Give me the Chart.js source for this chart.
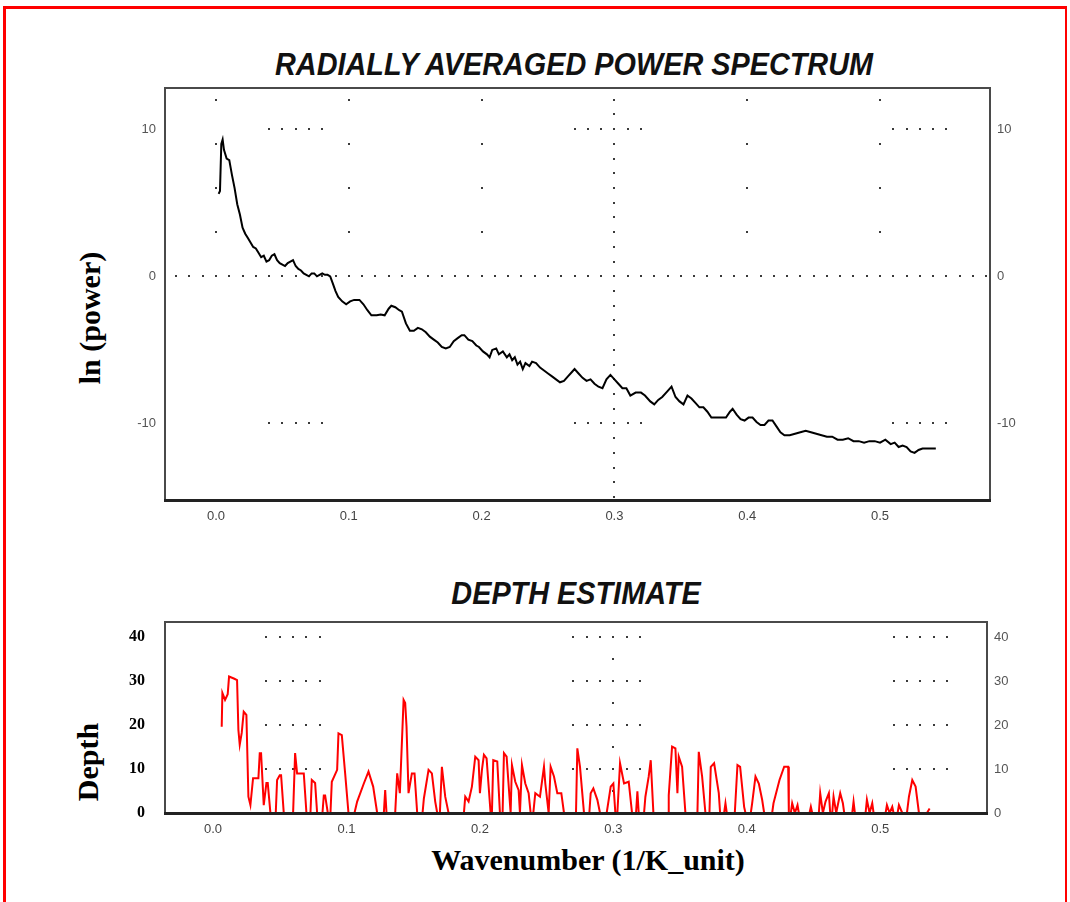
<!DOCTYPE html>
<html>
<head>
<meta charset="utf-8">
<script src="https://cdn.jsdelivr.net/npm/chart.js@4.4.0/dist/chart.umd.min.js"></script>
<style>
  html, body { margin: 0; padding: 0; background: #fff; overflow: hidden; }
  body { width: 1070px; height: 902px; position: relative; }
  .frame { position: absolute; left: 3px; top: 6px; right: 3px; bottom: -20px;
           border: 3px solid #ff0000; border-right-width: 2px; }
  .box { position: absolute; left: 0; width: 1070px; }
  .title { position: absolute; font-family: "Liberation Sans", Arial, sans-serif;
           font-weight: bold; font-style: italic; color: #111; white-space: nowrap;
           transform: translate(-50%, -50%) scaleX(0.93); }
  .ytitle { position: absolute; font-family: "Liberation Serif", "Times New Roman", serif;
            font-weight: bold; color: #000; white-space: nowrap;
            transform: translate(-50%, -50%) rotate(-90deg); }
  .xtitle { position: absolute; font-family: "Liberation Serif", "Times New Roman", serif;
            font-weight: bold; color: #000; white-space: nowrap; transform: translate(-50%, -50%); }
</style>
</head>
<body>
<div class="frame"></div>
<div class="title" style="left:574px; top:65px; font-size:31px;">RADIALLY AVERAGED POWER SPECTRUM</div>
<div class="title" style="left:576px; top:594px; font-size:31px;">DEPTH ESTIMATE</div>
<div class="ytitle" style="left:90px; top:318px; font-size:30px;">ln (power)</div>
<div class="ytitle" style="left:88px; top:762px; font-size:30px;">Depth</div>
<div class="xtitle" style="left:588px; top:860px; font-size:30px;">Wavenumber (1/K_unit)</div>

<div class="box" style="top:0; height:535px;"><canvas id="spectrum"></canvas></div>
<div class="box" style="top:560px; height:300px;"><canvas id="depth"></canvas></div>

<script>
// valores
const wavenumber = [0.002, 0.003, 0.004, 0.005, 0.006, 0.008, 0.010, 0.012, 0.014, 0.016, 0.018, 0.020,
  0.022, 0.024, 0.026, 0.028, 0.030, 0.032, 0.034, 0.036, 0.038, 0.040, 0.042, 0.044, 0.046, 0.048,
  0.050, 0.052, 0.054, 0.056, 0.058, 0.060, 0.062, 0.064, 0.066, 0.068, 0.070, 0.072, 0.074, 0.076,
  0.078, 0.080, 0.082, 0.084, 0.086, 0.088, 0.090, 0.092, 0.095, 0.098, 0.101, 0.104, 0.108, 0.111,
  0.114, 0.117, 0.121, 0.124, 0.127, 0.130, 0.132, 0.135, 0.138, 0.140, 0.143, 0.146, 0.149, 0.152,
  0.155, 0.158, 0.161, 0.164, 0.167, 0.170, 0.173, 0.176, 0.179, 0.182, 0.185, 0.187, 0.190, 0.193,
  0.196, 0.198, 0.201, 0.204, 0.206, 0.208, 0.211, 0.213, 0.216, 0.219, 0.221, 0.223, 0.225, 0.227,
  0.229, 0.231, 0.233, 0.236, 0.238, 0.241, 0.244, 0.247, 0.250, 0.253, 0.256, 0.259, 0.262, 0.265,
  0.268, 0.270, 0.273, 0.276, 0.279, 0.282, 0.285, 0.288, 0.291, 0.294, 0.297, 0.300, 0.303, 0.306,
  0.309, 0.312, 0.316, 0.320, 0.323, 0.327, 0.330, 0.333, 0.336, 0.340, 0.343, 0.346, 0.349, 0.352,
  0.355, 0.358, 0.361, 0.364, 0.367, 0.370, 0.373, 0.376, 0.380, 0.384, 0.387, 0.389, 0.392, 0.395,
  0.398, 0.401, 0.404, 0.407, 0.410, 0.413, 0.416, 0.419, 0.422, 0.425, 0.428, 0.432, 0.436, 0.440,
  0.444, 0.448, 0.452, 0.456, 0.460, 0.464, 0.468, 0.472, 0.476, 0.480, 0.484, 0.488, 0.492, 0.496,
  0.500, 0.504, 0.508, 0.511, 0.514, 0.517, 0.520, 0.523, 0.526, 0.529, 0.532, 0.536, 0.540, 0.542];

const lnPower = [5.6, 5.8, 9.0, 9.3, 8.6, 8.0, 7.9, 6.9, 6.0, 4.9, 4.2, 3.3,
  2.9, 2.6, 2.3, 2.0, 1.9, 1.6, 1.3, 1.4, 1.0, 1.1, 1.4, 1.5, 1.1, 0.9,
  0.8, 0.7, 0.9, 1.0, 1.1, 0.7, 0.5, 0.4, 0.2, 0.1, 0.0, 0.2, 0.2, 0.0,
  0.1, 0.2, 0.1, 0.1, 0.0, -0.5, -1.0, -1.4, -1.7, -1.9, -1.7, -1.6, -1.6, -1.9,
  -2.3, -2.65, -2.65, -2.6, -2.65, -2.2, -2.0, -2.1, -2.3, -2.4, -3.2, -3.7, -3.7, -3.5,
  -3.6, -3.8, -4.1, -4.3, -4.5, -4.8, -4.9, -4.8, -4.4, -4.2, -4.0, -4.0, -4.3, -4.4,
  -4.7, -4.8, -5.1, -5.3, -5.5, -5.0, -4.9, -5.3, -5.1, -5.5, -5.3, -5.7, -5.5, -6.0,
  -5.8, -6.3, -5.9, -6.1, -5.8, -5.9, -6.2, -6.4, -6.6, -6.8, -7.0, -7.2, -7.1, -6.8,
  -6.5, -6.3, -6.6, -6.9, -7.1, -7.0, -7.3, -7.5, -7.6, -7.0, -6.7, -7.0, -7.3, -7.6,
  -7.6, -8.1, -7.9, -7.9, -8.1, -8.5, -8.7, -8.4, -8.2, -7.8, -7.5, -8.2, -8.5, -8.7,
  -8.1, -8.3, -8.6, -8.9, -8.9, -9.2, -9.6, -9.6, -9.6, -9.6, -9.2, -9.0, -9.4, -9.7,
  -9.8, -9.6, -9.6, -9.9, -10.1, -10.1, -9.8, -9.8, -10.2, -10.6, -10.8, -10.8, -10.7, -10.6,
  -10.5, -10.6, -10.7, -10.8, -10.9, -10.9, -11.1, -11.1, -11.0, -11.2, -11.2, -11.3, -11.2, -11.2,
  -11.3, -11.1, -11.4, -11.3, -11.6, -11.5, -11.6, -11.9, -12.0, -11.8, -11.7, -11.7, -11.7, -11.7];

const depthWavenumber = [0.0065, 0.007, 0.009, 0.011, 0.012, 0.016, 0.018, 0.019, 0.020, 0.0215, 0.023, 0.025,
  0.0265, 0.028, 0.030, 0.034, 0.035, 0.036, 0.038, 0.040, 0.041, 0.043, 0.047, 0.048, 0.050, 0.051,
  0.053, 0.060, 0.0615, 0.063, 0.068, 0.069, 0.070, 0.073, 0.074, 0.0765, 0.078, 0.082, 0.083, 0.084,
  0.086, 0.088, 0.089, 0.093, 0.094, 0.0965, 0.099, 0.1015, 0.106, 0.108, 0.113, 0.1165, 0.120, 0.123,
  0.128, 0.129, 0.130, 0.1365, 0.138, 0.140, 0.1428, 0.144, 0.145, 0.1465, 0.149, 0.151, 0.153, 0.157,
  0.158, 0.1615, 0.164, 0.1665, 0.168, 0.170, 0.1715, 0.174, 0.1765, 0.188, 0.189, 0.1915, 0.194, 0.1965,
  0.199, 0.200, 0.2015, 0.203, 0.205, 0.208, 0.209, 0.210, 0.213, 0.215, 0.217, 0.218, 0.220, 0.223,
  0.224, 0.2265, 0.229, 0.230, 0.2315, 0.234, 0.2365, 0.238, 0.240, 0.2415, 0.245, 0.248, 0.249, 0.2515,
  0.253, 0.2555, 0.258, 0.261, 0.263, 0.272, 0.273, 0.275, 0.278, 0.282, 0.283, 0.285, 0.288, 0.290,
  0.295, 0.298, 0.300, 0.3015, 0.303, 0.305, 0.308, 0.3115, 0.314, 0.317, 0.318, 0.319, 0.323, 0.324,
  0.3265, 0.328, 0.330, 0.341, 0.3415, 0.344, 0.3465, 0.348, 0.349, 0.3515, 0.354, 0.363, 0.364, 0.3665,
  0.369, 0.372, 0.373, 0.3755, 0.379, 0.380, 0.383, 0.384, 0.385, 0.391, 0.393, 0.395, 0.398, 0.399,
  0.403, 0.404, 0.4065, 0.409, 0.4115, 0.413, 0.419, 0.420, 0.4245, 0.428, 0.431, 0.4315, 0.433, 0.434,
  0.436, 0.438, 0.439, 0.447, 0.448, 0.449, 0.454, 0.455, 0.457, 0.459, 0.4615, 0.4625, 0.464, 0.465,
  0.467, 0.470, 0.472, 0.473, 0.479, 0.480, 0.481, 0.489, 0.490, 0.492, 0.494, 0.495, 0.504, 0.505,
  0.507, 0.509, 0.510, 0.513, 0.514, 0.5165, 0.520, 0.5215, 0.524, 0.5265, 0.529, 0.535, 0.537];

const depth = [19.6, 27.3, 25.7, 27, 31, 30.5, 30.2, 18.9, 15.5, 18.2, 23, 22.3,
  3.7, 1.8, 7.9, 7.9, 13.6, 13.6, 1.8, 6.8, 6.8, 0, 0, 7.5, 8.6, 8.6,
  0, 0, 13.6, 9, 9, 4.5, 0, 0, 7.5, 6.8, 0, 0, 4, 4,
  0, 0, 7.1, 9.8, 18.1, 17.7, 9, 0, 0, 2.6, 6.7, 9.4, 6, 0,
  0, 5.2, 0, 0, 9, 4.5, 25.7, 25, 19.6, 4.5, 9, 9, 0, 0,
  3.3, 9.8, 9, 2.6, 0, 0, 10.5, 3.7, 0, 0, 3.7, 2.6, 6, 12.8,
  12, 4.5, 9.8, 13.2, 12.4, 0, 0, 12, 11.7, 0, 0, 13.6, 12.8, 0,
  10.9, 7.1, 5.2, 0, 10.9, 6.7, 4.5, 0, 0, 4.5, 3.7, 10.5, 6.7, 0,
  10.5, 8.3, 4.5, 4.5, 0, 0, 14.7, 10.5, 0, 0, 4.5, 5.6, 3, 0,
  0, 6, 6.7, 0, 0, 11.3, 6.7, 7.1, 0, 0, 4.9, 0, 0, 3.7,
  8.3, 12, 0, 0, 4, 15.1, 14.7, 4.5, 12.8, 10.5, 0, 0, 13.9, 8.3,
  0, 0, 10.5, 11.3, 4.5, 0, 0, 2.2, 0, 0, 10.9, 10.5, 1.4, 0,
  0, 2.2, 8.3, 6.7, 3, 0, 0, 2.2, 7.5, 10.5, 10.5, 0, 0, 2.2,
  0, 1.8, 0, 0, 1.4, 0, 0, 4.5, 0, 2.6, 4.5, 0, 0, 3.7,
  0, 4.5, 2.2, 0, 0, 2.6, 0, 0, 3, 0, 2.2, 0, 0, 1.8,
  0, 1.4, 0, 0, 1.8, 0, 0, 3.7, 7.5, 6, 0, 0, 1];

const xTicks = [0.0, 0.1, 0.2, 0.3, 0.4, 0.5];
const powerTicks = [-10, 0, 10];
const depthTicks = [0, 10, 20, 30, 40];

// puntitos de referencia que dibuja el programa original (en unidades de datos)
const dotsPlugin = {
  id: 'dots',
  beforeDatasetsDraw(chart, args, opts) {
    const { ctx, scales: { x, y } } = chart
    ctx.save()
    ctx.fillStyle = '#3a3a3a'
    const dot = (vx, vy) => {
      ctx.fillRect(Math.round(x.getPixelForValue(vx)) - 1, Math.round(y.getPixelForValue(vy)) - 1, 2, 2)
    }
    ;(opts.rows || []).forEach(r => {
      for (let v = r.from; v <= r.to + 1e-9; v += r.step) dot(v, r.at)
    })
    ;(opts.cols || []).forEach(c => {
      for (let v = c.from; v <= c.to + 1e-9; v += c.step) dot(c.at, v)
    })
    ctx.restore()
  },
  afterDraw(chart) {
    const { ctx, chartArea: a } = chart
    ctx.save()
    ctx.strokeStyle = '#4a4a4a'
    ctx.lineWidth = 2
    ctx.strokeRect(a.left, a.top, a.right - a.left, a.bottom - a.top)
    ctx.strokeStyle = '#222'
    ctx.lineWidth = 3
    ctx.beginPath()
    ctx.moveTo(a.left - 1, a.bottom + 0.5)
    ctx.lineTo(a.right + 1, a.bottom + 0.5)
    ctx.stroke()
    ctx.restore()
  }
}

const sideTicks = { color: '#555', font: { family: 'Liberation Sans, Arial, sans-serif', size: 13 } }
const fixTicks = list => scale => { scale.ticks = list.map(v => ({ value: v })) }

const xScale = (min, max, height) => ({
  type: 'linear', min: min, max: max,
  afterBuildTicks: fixTicks(xTicks),
  afterFit: s => { s.height = height },
  grid: { display: false, drawTicks: false },
  border: { display: false },
  ticks: { ...sideTicks, color: '#444', padding: 9, maxRotation: 0, callback: v => v.toFixed(1) }
})

const yScales = (min, max, list, leftTicks, leftPad, rightWidth) => ({
  y: {
    min: min, max: max, position: 'left',
    afterBuildTicks: fixTicks(list),
    afterFit: s => { s.width = 165 },
    grid: { display: false, drawTicks: false },
    border: { display: false },
    ticks: { ...leftTicks, padding: leftPad }
  },
  y2: {
    min: min, max: max, position: 'right',
    afterBuildTicks: fixTicks(list),
    afterFit: s => { s.width = rightWidth },
    grid: { display: false, drawTicks: false },
    border: { display: false },
    ticks: { ...sideTicks, padding: 7 }
  }
})

const baseOptions = {
  responsive: false,
  animation: false,
  events: [],
  plugins: { legend: { display: false }, tooltip: { enabled: false } },
  elements: { point: { radius: 0 }, line: { tension: 0 } }
}

const crearGrafico = (canvasid, width, height, padding, datasets, scales, dots) => {
  const canvas = document.getElementById(canvasid)
  canvas.width = width
  canvas.height = height
  return new Chart(canvas, {
    type: 'line',
    data: { datasets: datasets },
    options: {
      ...baseOptions,
      layout: { padding: padding },
      scales: scales,
      plugins: { ...baseOptions.plugins, dots: dots }
    },
    plugins: [dotsPlugin]
  })
}

const segments = at => [
  { at: at, from: 0.04, to: 0.08, step: 0.01 },
  { at: at, from: 0.27, to: 0.32, step: 0.01 },
  { at: at, from: 0.51, to: 0.55, step: 0.01 }
]

// grafico superior: espectro de potencia
crearGrafico('spectrum', 1070, 535, { top: 88, left: 0, right: 0, bottom: 0 },
  [{
    data: wavenumber.map((k, i) => ({ x: k, y: lnPower[i] })),
    borderColor: '#000', borderWidth: 2, yAxisID: 'y'
  }],
  { x: xScale(-0.0384, 0.5828, 35), ...yScales(-15.2, 12.8, powerTicks, sideTicks, 9, 80) },
  {
    rows: [{ at: 0, from: -0.03, to: 0.58, step: 0.01 }, ...segments(10), ...segments(-10)],
    cols: [{ at: 0.3, from: -15, to: 12, step: 1 },
      ...[0.0, 0.1, 0.2, 0.4, 0.5].map(k => ({ at: k, from: 3, to: 12, step: 3 }))]
  })

// grafico inferior: estimacion de profundidad
crearGrafico('depth', 1070, 300, { top: 62, left: 0, right: 0, bottom: 0 },
  [{
    data: depthWavenumber.map((k, i) => ({ x: k, y: depth[i] })),
    borderColor: '#ff0000', borderWidth: 2, yAxisID: 'y'
  }],
  {
    x: xScale(-0.036, 0.58, 47),
    ...yScales(0, 43.4, depthTicks, { color: '#000', font: { family: 'Liberation Serif, Times New Roman, serif', size: 16, weight: 'bold' } }, 20, 83)
  },
  {
    rows: [...segments(10), ...segments(20), ...segments(30), ...segments(40)],
    cols: [{ at: 0.3, from: 5, to: 35, step: 10 }]
  })
</script>
</body>
</html>
